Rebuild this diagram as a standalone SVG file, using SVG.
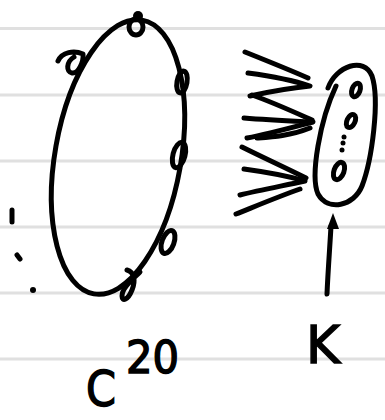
<svg xmlns="http://www.w3.org/2000/svg" width="385" height="420" viewBox="0 0 385 420">
<style>
.rule{stroke:#e0e0e0;stroke-width:3}
.ink{fill:none;stroke:#000;stroke-width:5;stroke-linecap:round;stroke-linejoin:round}
.dot{fill:#000}
.lbl{font-family:"DejaVu Sans","Liberation Sans",sans-serif;fill:#000;stroke:#000;stroke-width:1.5}
</style>
<rect width="385" height="420" fill="#fff"/>
<g id="paper">
<line class="rule" x1="0" y1="28.5" x2="385" y2="28.5"/>
<line class="rule" x1="0" y1="95" x2="385" y2="95"/>
<line class="rule" x1="0" y1="161" x2="385" y2="161"/>
<line class="rule" x1="0" y1="227" x2="385" y2="227"/>
<line class="rule" x1="0" y1="293" x2="385" y2="293"/>
<line class="rule" x1="0" y1="359" x2="385" y2="359"/>
</g>
<g id="cycle">
<ellipse class="ink" cx="118" cy="157" rx="63" ry="139" transform="rotate(10 118 157)"/>
<ellipse class="ink" cx="136" cy="27" rx="7" ry="8"/>
<circle class="dot" cx="138" cy="16" r="5"/>
<path class="ink" d="M58,61 C62,52 74,50 83,54 C84,62 78,74 72,73 C66,72 66,62 74,57"/>
<ellipse class="ink" cx="182" cy="82" rx="5" ry="11" transform="rotate(10 182 82)"/>
<ellipse class="ink" cx="179" cy="155" rx="6" ry="13" transform="rotate(15 179 155)"/>
<ellipse class="ink" cx="168" cy="242" rx="6" ry="12" transform="rotate(20 168 242)"/>
<path class="ink" d="M127,270 C134,272 136,280 132,290 C128,300 122,302 122,296 C122,288 132,280 140,272"/>
<line class="ink" x1="12" y1="210" x2="12" y2="222"/>
<line class="ink" x1="17" y1="255" x2="20" y2="259"/>
<circle class="dot" cx="33" cy="290" r="3"/>
</g>
<g id="edges">
<path class="ink" d="M245,52 C265,60 290,70 308,78"/>
<path class="ink" d="M248,73 C270,76 292,80 310,86 C290,88 268,92 250,96"/>
<path class="ink" d="M252,95 C272,102 294,112 312,120"/>
<path class="ink" d="M244,118 C268,120 292,121 313,122 C290,128 268,134 247,138"/>
<path class="ink" d="M257,138 C272,137 290,136 310,128"/>
<path class="ink" d="M242,147 C262,157 286,168 306,178"/>
<path class="ink" d="M244,169 C266,172 288,176 305,181 C282,186 260,190 240,195"/>
<path class="ink" d="M236,214 C256,206 280,196 300,189"/>
</g>
<g id="k-set">
<path class="ink" d="M328,88 C336,66 364,56 372,76 C380,100 372,160 362,186 C354,206 328,212 318,194 C310,176 320,120 336,86"/>
<ellipse class="ink" cx="356" cy="90" rx="4" ry="7" transform="rotate(20 356 90)"/>
<ellipse class="ink" cx="351" cy="121" rx="4" ry="7" transform="rotate(25 351 121)"/>
<circle class="dot" cx="344" cy="137" r="2.5"/>
<circle class="dot" cx="343" cy="143" r="2.5"/>
<circle class="dot" cx="342" cy="150" r="2.5"/>
<ellipse class="ink" cx="339" cy="171" rx="5" ry="9" transform="rotate(20 339 171)"/>
</g>
<g id="arrow">
<path class="ink" d="M327,294 C328,270 330,245 331,226"/>
<polygon class="dot" points="333,213 327,229 339,229"/>
</g>
<g id="labels">
<text class="lbl" x="306" y="363" font-size="52" textLength="34" lengthAdjust="spacingAndGlyphs">K</text>
<text class="lbl" x="86" y="406" font-size="50" textLength="30" lengthAdjust="spacingAndGlyphs">C</text>
<text class="lbl" x="126" y="373" font-size="44" textLength="53" lengthAdjust="spacingAndGlyphs">20</text>
</g>
</svg>
